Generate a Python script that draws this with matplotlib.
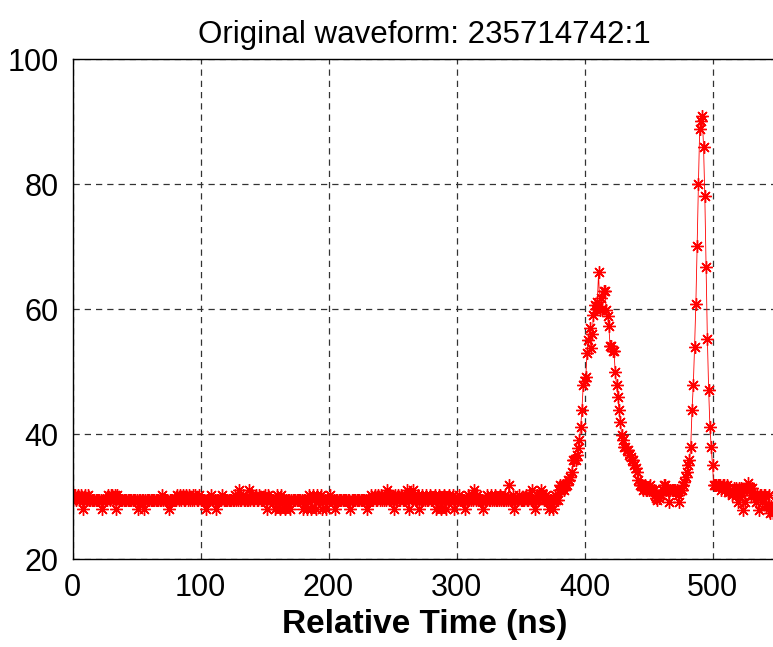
import matplotlib
matplotlib.use("Agg")
import matplotlib.pyplot as plt
import numpy as np

plt.rcParams['font.family'] = ['Liberation Sans', 'DejaVu Sans']

# amplitude samples, one per ns
base_000 = [29.5,30.3,30.3,29.5,30.3,29.5,29.5,30.3,28.0,29.5,30.3,29.5,30.3,29.5,29.5,29.5,29.5,29.5,29.5,29.5,
            29.5,29.5,29.5,28.0,29.5,29.5,29.5,29.5,30.3,29.5,30.3,30.3,29.5,30.3,28.0,30.3,29.5,29.5,29.5,29.5,
            29.5,29.5,29.5,29.5,29.5,29.5,29.5,29.5,29.5,29.5,29.5,28.0,29.5,29.5,29.5,29.5,28.0,29.5,29.5,29.5,
            29.5,29.5,29.5,29.5,29.5,29.5,29.5,29.5,29.5,29.5,30.3,29.5,29.5,29.5,29.5,28.0,29.5,29.5,29.5,29.5,
            29.5,29.5,30.3,29.5,30.3,29.5,30.3,29.5,29.5,30.3,29.5,30.3,29.5,29.5,30.3,29.5,30.3,29.5,29.5,30.3]
base_100 = [29.5,29.5,29.5,29.5,28.0,29.5,29.5,29.5,30.3,29.5,29.5,29.5,28.0,29.5,29.5,29.5,29.5,30.3,29.5,29.5,
            29.5,29.5,29.5,29.5,29.5,29.5,29.5,30.3,29.5,29.5,31.1,29.5,29.5,30.3,29.5,29.5,29.5,29.5,31.1,29.5,
            30.3,29.5,29.5,30.3,29.5,29.5,30.3,29.5,29.5,29.5,30.3,29.5,28.0,30.3,29.5,29.5,29.5,29.5,28.0,29.5,
            30.3,29.5,28.0,30.3,29.5,29.5,28.0,29.5,29.5,29.5,28.0,29.5,29.5,29.5,29.5,29.5,29.5,29.5,29.5,29.5,
            28.0,29.5,29.5,28.0,29.5,30.3,28.0,29.5,30.3,29.5,28.0,30.3,29.5,29.5,30.3,28.0,29.5,29.5,28.0,29.5]
base_200 = [29.5,30.3,29.5,29.5,29.5,28.0,29.5,29.5,29.5,29.5,29.5,29.5,29.5,29.5,29.5,29.5,29.5,28.0,29.5,29.5,
            29.5,29.5,29.5,29.5,29.5,29.5,29.5,29.5,29.5,29.5,28.0,29.5,29.5,30.3,29.5,29.5,30.3,29.5,29.5,30.3,
            29.5,30.3,29.5,29.5,30.3,29.5,31.1,29.5,30.3,29.5,29.5,28.0,30.3,29.5,30.3,29.5,29.5,30.3,29.5,29.5,
            30.3,31.1,29.5,28.0,30.3,29.5,31.1,30.3,29.5,29.5,30.3,28.0,29.5,30.3,29.5,29.5,30.3,29.5,29.5,30.3,
            29.5,29.5,29.5,30.3,28.0,29.5,30.3,29.5,28.0,29.5,30.3,29.5,28.0,29.5,30.3,29.5,29.5,30.3,28.0,29.5]
base_300 = [29.5,29.5,30.3,29.5,29.5,29.5,29.5,28.0,29.5,30.3,29.5,29.5,30.3,29.5,31.1,29.5,30.3,29.5,29.5,29.5,
            29.5,28.0,29.5,29.5,30.3,29.5,29.5,30.3,29.5,29.5,30.3,29.5,29.5,29.5,30.3,29.5,29.5,29.5,30.3,29.5,
            29.5,31.9,29.5,29.5,30.3,28.0,29.5,29.5,29.5,30.3,29.5,29.5,29.5,29.5,30.3,29.5,29.5,30.3,29.5,31.1,
            29.5,28.0,29.5,30.3,29.5,30.3,31.1,30.3,29.5,29.5,30.3,29.5,28.0,29.5,29.5,28.0,29.5,30.3,29.5,29.5]
peak1 = [31.1,31.9,31.1,31.9,31.1,31.9,31.9,32.7,32.7,33.2,34.0,35.9,35.9,35.9,36.7,37.8,39.1,41.2,43.9,47.9,
         48.5,49.2,53.0,55.1,57.0,53.8,56.0,59.1,60.7,60.0,61.2,65.9,59.9,61.8,60.0,62.9,62.9,59.9,59.0,57.3,
         54.1,54.1,53.3,53.3,50.0,47.9,46.0,43.9,42.0,39.9,39.1,38.0,38.0,37.5,37.5,36.7,36.3,35.9,35.9,35.1,
         34.6,34.0,32.7,31.9,31.9,31.9,31.1,31.9,31.1,31.1,31.1,31.9,31.1,31.1,31.1,30.3,29.8,29.5,29.8,30.3]
valley = [30.3,31.1,31.9,31.9,31.1,31.1,29.2,31.1,31.1,31.1,31.1,31.1,31.1,30.3,29.2,31.1,31.1,31.9,32.3,33.2]
peak2 = [34.0,35.1,35.9,38.0,43.9,47.9,54.0,60.9,70.1,80.1,88.9,90.1,90.9,86.0,78.1,66.8,55.2,47.1,41.1,38.0,
         35.1,31.9]
tail = [31.9,31.9,31.9,31.9,31.9,31.1,31.9,31.9,31.1,31.9,30.8,30.8,31.1,30.3,30.8,31.4,31.4,30.3,29.2,31.4,
        31.4,30.3,27.9,29.2,31.4,31.4,32.2,31.4,30.3,31.4,30.3,30.3,29.2,30.3,27.9,30.3,30.3,29.2,30.3,30.3,
        28.6,28.6,30.3,27.4,28.6,27.4]

amp = np.array(base_000 + base_100 + base_200 + base_300 + peak1 + valley + peak2 + tail)
t = np.arange(len(amp))

fig = plt.figure(figsize=(7.73, 6.47), dpi=100)
ax = fig.add_axes([72.5/773, 1 - 559.3/647, 704/773, 500/647])

# MATLAB-style 'r*-': thin line, 8-spoke asterisk markers
ax.plot(t, amp, color='red', lw=0.6, marker=(8, 2, 0), ms=9, mew=1.0, mec='red')

ax.set_xlim(0, 550)
ax.set_ylim(20, 100)
ax.set_xticks([0, 100, 200, 300, 400, 500])
ax.set_yticks([20, 40, 60, 80, 100])
ax.grid(True, color='0.2', ls=(0, (5, 4)), lw=0.9)
ax.tick_params(length=0, labelsize=22, pad=10)
for s in ['left', 'bottom', 'top']:
    ax.spines[s].set_linewidth(1.0)
ax.spines['right'].set_visible(False)

ax.set_title('Original waveform: 235714742:1', fontsize=22.5, pad=12)
ax.set_xlabel('Relative Time (ns)', fontsize=24, fontweight='bold', labelpad=4)

fig.savefig('out.png', dpi=100)
